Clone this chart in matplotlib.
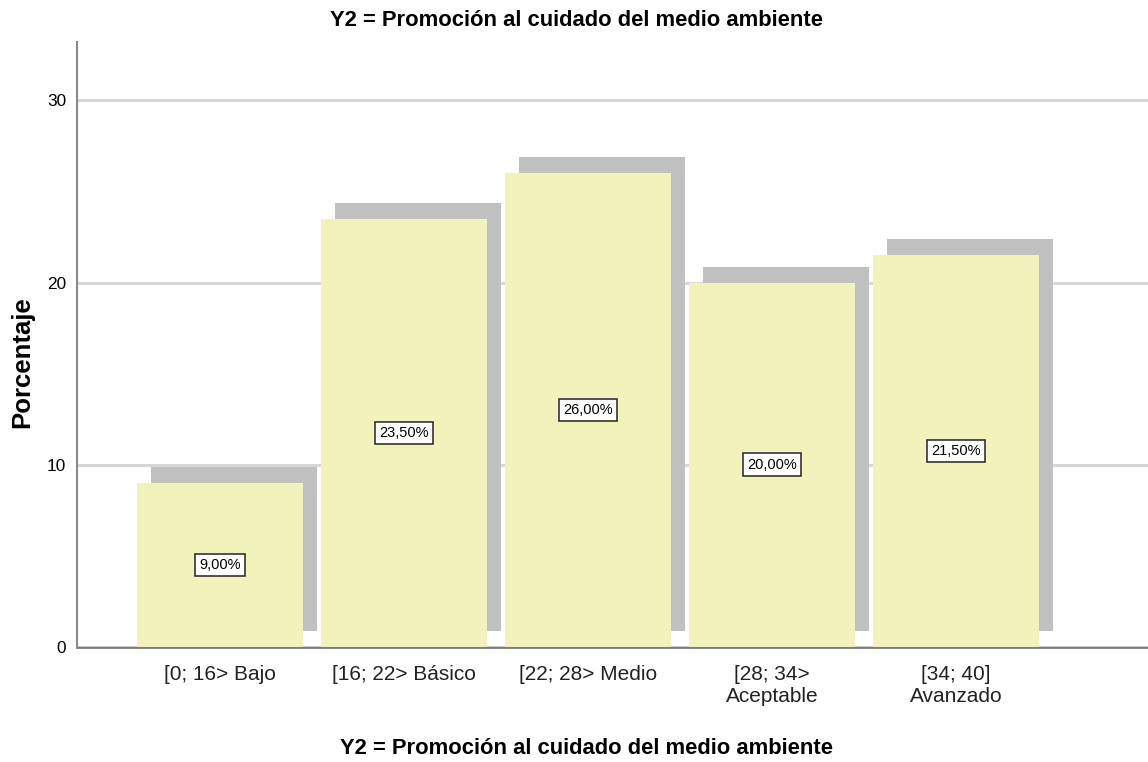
import numpy as np
import matplotlib.pyplot as plt
import matplotlib.transforms as mtransforms

plt.rcParams['font.family'] = ['Liberation Sans', 'DejaVu Sans']

categorias = ["[0; 16> Bajo", "[16; 22> Básico", "[22; 28> Medio",
              "[28; 34>\nAceptable", "[34; 40]\nAvanzado"]
porcentajes = [9.0, 23.5, 26.0, 20.0, 21.5]
etiquetas = ["9,00%", "23,50%", "26,00%", "20,00%", "21,50%"]

titulo = "Y2 = Promoción al cuidado del medio ambiente"

COR_BARRA = "#f2f2bb"
COR_SOMBRA = "#c0c0c0"


def main():
    fig = plt.figure(figsize=(11.48, 7.62), dpi=100)
    ax = fig.add_axes([0.0671, 0.1509, 0.9329, 0.794])

    x = np.arange(len(categorias))
    largura = 0.902

    # sombra: mesma barra deslocada alguns pixels para cima/direita
    sombra = mtransforms.offset_copy(ax.transData, fig=fig, x=14, y=16, units='dots')
    for xi, v in zip(x, porcentajes):
        ax.bar(xi, v, width=largura, color=COR_SOMBRA, transform=sombra, zorder=1)

    ax.bar(x, porcentajes, width=largura, color=COR_BARRA, zorder=2)

    for xi, v, txt in zip(x, porcentajes, etiquetas):
        ax.text(xi, v / 2, txt, ha="center", va="center", fontsize=10.5, zorder=3,
                bbox=dict(boxstyle="square,pad=0.3", facecolor="white",
                          edgecolor="#333333", linewidth=1.2))

    ax.set_xlim(-0.777, 5.043)
    ax.set_ylim(0, 33.2)
    ax.set_yticks([0, 10, 20, 30])
    ax.set_xticks(x)
    ax.set_xticklabels(categorias, fontsize=15, color="#222222", linespacing=1.2)
    ax.tick_params(axis="y", labelsize=12.4, length=0, pad=8)
    ax.tick_params(axis="x", length=0, pad=13)

    ax.grid(axis="y", color="#d4d4d4", linewidth=2, zorder=0)
    ax.set_axisbelow(True)

    for lado in ["top", "right"]:
        ax.spines[lado].set_visible(False)
    ax.spines["left"].set_color("#8a8a8a")
    ax.spines["left"].set_linewidth(1.5)
    ax.spines["bottom"].set_color("#7a7a7a")
    ax.spines["bottom"].set_linewidth(2)
    ax.spines["bottom"].set_zorder(0.5)

    fig.text(576 / 1148, 1 - 21 / 762, titulo, fontsize=15.8, fontweight="bold",
             ha="center", va="center")
    fig.text(586 / 1148, 1 - 748 / 762, titulo, fontsize=15.8, fontweight="bold",
             ha="center", va="center")
    fig.text(22 / 1148, 1 - 362 / 762, "Porcentaje", fontsize=18.5, fontweight="bold",
             rotation=90, ha="center", va="center")

    fig.savefig("out.png", dpi=100)


if __name__ == "__main__":
    main()
